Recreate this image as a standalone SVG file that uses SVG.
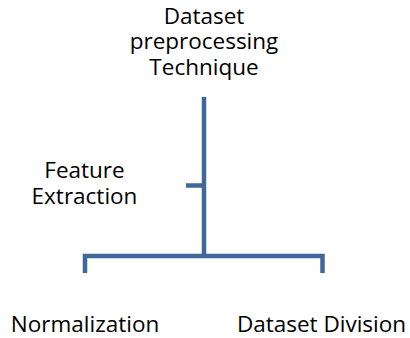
<svg xmlns="http://www.w3.org/2000/svg" width="410" height="338" viewBox="0 0 410 338">
<style>
.t{font-family:"Open Sans","Noto Sans",sans-serif;font-size:22.5px;fill:#000;text-anchor:middle}
.c{fill:none;stroke:#3F6797;stroke-width:4.5;stroke-linecap:butt;stroke-linejoin:miter}
</style>
<rect width="410" height="338" fill="#fff"/>
<g id="connectors">
<path class="c" d="M204,97 V256"/>
<path class="c" d="M85,273 V256 H322.5 V273"/>
<path class="c" d="M186,185.5 H204"/>
</g>
<g id="node-root">
<text class="t" x="204" y="23.5">Dataset</text>
<text class="t" x="204" y="49">preprocessing</text>
<text class="t" x="204" y="74.5">Technique</text>
</g>
<g id="node-feature">
<text class="t" x="84.5" y="178">Feature</text>
<text class="t" x="84.5" y="203.5">Extraction</text>
</g>
<g id="node-normalization">
<text class="t" x="85" y="331.5">Normalization</text>
</g>
<g id="node-division">
<text class="t" x="321.5" y="331.5">Dataset Division</text>
</g>
</svg>
